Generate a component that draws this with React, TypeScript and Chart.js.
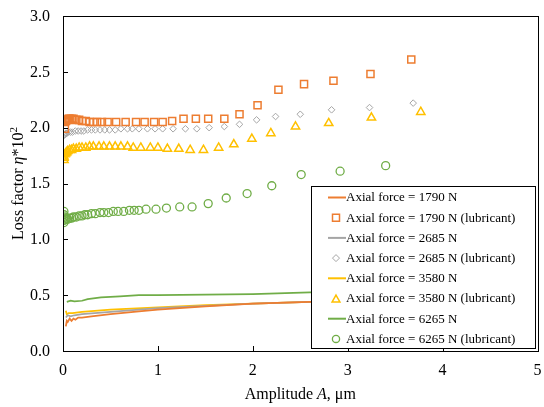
import { useEffect, useRef } from 'react';
import { Chart, registerables } from 'chart.js';

Chart.register(...registerables);

const SERIF = '"Liberation Serif", "Times New Roman", serif';

// Axis ticks
const xTicks = [0, 1, 2, 3, 4, 5];
const yTicks = [0, 0.5, 1.0, 1.5, 2.0, 2.5, 3.0];

// Series labels
const seriesLabels = [
  'Axial force = 1790 N',
  'Axial force = 1790 N (lubricant)',
  'Axial force = 2685 N',
  'Axial force = 2685 N (lubricant)',
  'Axial force = 3580 N',
  'Axial force = 3580 N (lubricant)',
  'Axial force = 6265 N',
  'Axial force = 6265 N (lubricant)',
];

// Dry (line) series
const amp1790 = [0.03, 0.04, 0.05, 0.07, 0.09, 0.11, 0.13, 0.16, 0.2, 0.3, 0.5, 0.8, 1.0, 1.5, 2.0, 2.6, 3.0, 3.6];
const loss1790 = [0.22, 0.27, 0.26, 0.29, 0.27, 0.29, 0.28, 0.30, 0.30, 0.31, 0.33, 0.355, 0.37, 0.40, 0.425, 0.44, 0.45, 0.46];

const amp2685 = [0.03, 0.05, 0.08, 0.12, 0.2, 0.5, 1.0, 1.5, 2.0, 2.6, 3.6];
const loss2685 = [0.30, 0.32, 0.31, 0.32, 0.33, 0.35, 0.385, 0.405, 0.425, 0.44, 0.46];

const amp3580 = [0.03, 0.04, 0.06, 0.1, 0.2, 0.5, 1.0, 1.5, 2.0, 2.6, 3.6];
const loss3580 = [0.36, 0.33, 0.34, 0.34, 0.35, 0.37, 0.39, 0.41, 0.425, 0.44, 0.46];

const amp6265 = [0.04, 0.08, 0.12, 0.2, 0.26, 0.4, 0.6, 0.8, 1.0, 1.5, 2.0, 2.6, 3.6];
const loss6265 = [0.44, 0.45, 0.445, 0.45, 0.465, 0.48, 0.49, 0.50, 0.50, 0.505, 0.51, 0.525, 0.53];

// Lubricant (marker) series
const amp1790L = [0.02, 0.02, 0.03, 0.04, 0.05, 0.06, 0.07, 0.09, 0.11, 0.14, 0.17, 0.20, 0.24, 0.28, 0.32, 0.36, 0.41, 0.47, 0.56, 0.66, 0.77, 0.86, 0.96, 1.05, 1.15, 1.27, 1.40, 1.53, 1.70, 1.86, 2.05, 2.27, 2.54, 2.85, 3.24, 3.67];
const loss1790L = [1.99, 2.05, 2.06, 2.07, 2.07, 2.08, 2.08, 2.08, 2.08, 2.07, 2.07, 2.06, 2.06, 2.05, 2.05, 2.05, 2.05, 2.05, 2.05, 2.05, 2.05, 2.05, 2.05, 2.05, 2.06, 2.08, 2.08, 2.08, 2.08, 2.12, 2.20, 2.34, 2.39, 2.42, 2.48, 2.61];

const amp2685L = [0.01, 0.01, 0.02, 0.03, 0.04, 0.06, 0.08, 0.10, 0.13, 0.16, 0.19, 0.22, 0.26, 0.30, 0.34, 0.39, 0.44, 0.49, 0.55, 0.61, 0.68, 0.73, 0.80, 0.89, 0.97, 1.05, 1.16, 1.29, 1.41, 1.54, 1.70, 1.86, 2.04, 2.24, 2.50, 2.83, 3.23, 3.69];
const loss2685L = [1.93, 1.94, 1.94, 1.95, 1.95, 1.96, 1.96, 1.96, 1.97, 1.97, 1.97, 1.97, 1.98, 1.98, 1.98, 1.98, 1.98, 1.98, 1.98, 1.99, 1.99, 1.99, 1.99, 1.99, 1.99, 1.99, 1.99, 1.99, 1.99, 2.00, 2.01, 2.03, 2.07, 2.10, 2.12, 2.16, 2.18, 2.22];

const amp3580L = [0.01, 0.01, 0.01, 0.02, 0.03, 0.04, 0.05, 0.07, 0.09, 0.11, 0.14, 0.17, 0.20, 0.24, 0.28, 0.32, 0.38, 0.43, 0.49, 0.55, 0.61, 0.68, 0.74, 0.82, 0.92, 1.00, 1.10, 1.22, 1.34, 1.48, 1.64, 1.80, 1.99, 2.19, 2.45, 2.80, 3.25, 3.77];
const loss3580L = [1.71, 1.73, 1.74, 1.76, 1.77, 1.78, 1.79, 1.80, 1.80, 1.81, 1.81, 1.82, 1.82, 1.82, 1.83, 1.83, 1.83, 1.83, 1.83, 1.83, 1.83, 1.83, 1.82, 1.82, 1.82, 1.82, 1.81, 1.81, 1.80, 1.80, 1.82, 1.85, 1.90, 1.95, 2.01, 2.04, 2.09, 2.14];

const amp6265L = [0.01, 0.01, 0.01, 0.01, 0.02, 0.03, 0.04, 0.05, 0.07, 0.09, 0.11, 0.14, 0.17, 0.20, 0.23, 0.26, 0.30, 0.34, 0.39, 0.43, 0.48, 0.53, 0.58, 0.64, 0.70, 0.75, 0.80, 0.875, 0.98, 1.09, 1.23, 1.36, 1.53, 1.72, 1.94, 2.20, 2.51, 2.92, 3.40];
const loss6265L = [1.25, 1.17, 1.22, 1.15, 1.20, 1.18, 1.19, 1.18, 1.19, 1.19, 1.20, 1.20, 1.21, 1.21, 1.22, 1.22, 1.23, 1.23, 1.24, 1.24, 1.24, 1.25, 1.25, 1.25, 1.26, 1.26, 1.26, 1.27, 1.27, 1.28, 1.29, 1.29, 1.32, 1.37, 1.41, 1.48, 1.58, 1.61, 1.66];

const ORANGE = '#ED7D31';
const GRAY = '#A5A5A5';
const YELLOW = '#FFC000';
const GREEN = '#70AD47';

const pts = (xs: number[], ys: number[]) => xs.map((x, i) => ({ x, y: ys[i] }));

type Seg = { text: string; font: string; dy?: number };

function drawSegs(ctx: CanvasRenderingContext2D, segs: Seg[], cx: number, baseline: number) {
  let total = 0;
  for (const s of segs) {
    ctx.font = s.font;
    total += ctx.measureText(s.text).width;
  }
  let x = cx - total / 2;
  ctx.textAlign = 'left';
  ctx.textBaseline = 'alphabetic';
  for (const s of segs) {
    ctx.font = s.font;
    ctx.fillText(s.text, x, baseline + (s.dy || 0));
    x += ctx.measureText(s.text).width;
  }
}

function drawMarker(ctx: CanvasRenderingContext2D, style: string, cx: number, cy: number, color: string) {
  ctx.save();
  ctx.strokeStyle = color;
  ctx.beginPath();
  if (style === 'rect') {
    ctx.lineWidth = 1.5;
    ctx.rect(cx - 3.5, cy - 3.5, 7, 7);
  } else if (style === 'rectRot') {
    ctx.lineWidth = 1;
    ctx.moveTo(cx, cy - 3.5);
    ctx.lineTo(cx + 3.5, cy);
    ctx.lineTo(cx, cy + 3.5);
    ctx.lineTo(cx - 3.5, cy);
    ctx.closePath();
  } else if (style === 'triangle') {
    ctx.lineWidth = 1.5;
    const r = 4.5;
    const oy = cy + r / 4;
    ctx.moveTo(cx, oy - r);
    ctx.lineTo(cx + r * 0.866, oy + r / 2);
    ctx.lineTo(cx - r * 0.866, oy + r / 2);
    ctx.closePath();
  } else {
    ctx.lineWidth = 1.3;
    ctx.arc(cx, cy, 3.6, 0, Math.PI * 2);
  }
  ctx.stroke();
  ctx.restore();
}

const decorPlugin = {
  id: 'decor',
  afterDatasetsDraw(chart: any) {
    const { ctx, chartArea: ca, scales } = chart;
    const xs = scales.x;
    const ys = scales.y;
    ctx.save();
    // inside tick marks
    ctx.strokeStyle = '#000';
    ctx.lineWidth = 1;
    ctx.beginPath();
    for (const v of yTicks) {
      const py = Math.round(ys.getPixelForValue(v)) + 0.5;
      ctx.moveTo(ca.left, py);
      ctx.lineTo(ca.left + 5, py);
    }
    for (const v of xTicks) {
      const px = Math.round(xs.getPixelForValue(v)) + 0.5;
      ctx.moveTo(px, ca.bottom);
      ctx.lineTo(px, ca.bottom - 5);
    }
    ctx.stroke();

    // tick labels
    ctx.fillStyle = '#000';
    ctx.font = '16px ' + SERIF;
    ctx.textBaseline = 'middle';
    ctx.textAlign = 'right';
    for (const v of yTicks) {
      ctx.fillText(v.toFixed(1), ca.left - 13, ys.getPixelForValue(v) + 0.5);
    }
    ctx.textAlign = 'center';
    for (const v of xTicks) {
      ctx.fillText(String(v), xs.getPixelForValue(v), ca.bottom + 20);
    }

    // legend box
    const boxW = 224;
    const boxH = 162;
    const bx = Math.round(ca.right - 3 - boxW);
    const by = Math.round(ca.bottom - 3 - boxH);
    ctx.fillStyle = '#fff';
    ctx.fillRect(bx, by, boxW, boxH);
    ctx.strokeStyle = '#000';
    ctx.lineWidth = 1;
    ctx.strokeRect(bx + 0.5, by + 0.5, boxW, boxH);
    const dsets = chart.data.datasets;
    dsets.forEach((d: any, i: number) => {
      const cy = by + 11.5 + i * 20.2;
      if (d.showLine) {
        ctx.strokeStyle = d.borderColor;
        ctx.lineWidth = 2;
        ctx.beginPath();
        ctx.moveTo(bx + 17, cy);
        ctx.lineTo(bx + 35, cy);
        ctx.stroke();
      } else {
        drawMarker(ctx, d.pointStyle, bx + 25, cy, d.borderColor);
      }
      ctx.fillStyle = '#000';
      ctx.font = '13px ' + SERIF;
      ctx.textAlign = 'left';
      ctx.textBaseline = 'middle';
      ctx.fillText(d.label, bx + 35, cy + 0.5);
    });

    // frame
    ctx.strokeStyle = '#000';
    ctx.lineWidth = 1;
    const l = Math.round(ca.left) + 0.5;
    const t = Math.round(ca.top) + 0.5;
    ctx.strokeRect(l, t, Math.round(ca.right) - Math.round(ca.left), Math.round(ca.bottom) - Math.round(ca.top));

    // axis titles
    ctx.fillStyle = '#000';
    const f = '16px ' + SERIF;
    const fi = 'italic 16px ' + SERIF;
    drawSegs(ctx, [
      { text: 'Amplitude ', font: f },
      { text: 'A', font: fi },
      { text: ', μm', font: f },
    ], (ca.left + ca.right) / 2, 399);
    ctx.save();
    ctx.translate(23, (ca.top + ca.bottom) / 2);
    ctx.rotate(-Math.PI / 2);
    drawSegs(ctx, [
      { text: 'Loss factor ', font: f },
      { text: 'η', font: fi },
      { text: '*10', font: f },
      { text: '2', font: '11px ' + SERIF, dy: -6 },
    ], 0, 0);
    ctx.restore();
    ctx.restore();
  },
};

export default function App() {
  const ref = useRef<HTMLCanvasElement | null>(null);
  useEffect(() => {
    document.body.style.margin = '0';
    if (!ref.current) return;
    const lineDs = (label: string, xs: number[], ys: number[], color: string) => ({
      label,
      data: pts(xs, ys),
      showLine: true,
      borderColor: color,
      backgroundColor: color,
      borderWidth: 1.75,
      pointRadius: 0,
      pointStyle: 'line',
    });
    const markDs = (label: string, xs: number[], ys: number[], color: string, style: string, r: number, bw: number) => ({
      label,
      data: pts(xs, ys),
      showLine: false,
      borderColor: color,
      backgroundColor: 'rgba(0,0,0,0)',
      pointStyle: style,
      pointRadius: r,
      pointBorderWidth: bw,
      borderWidth: bw,
    });
    const chart = new Chart(ref.current, {
      type: 'scatter',
      data: {
        datasets: [
          lineDs(seriesLabels[0], amp1790, loss1790, ORANGE),
          markDs(seriesLabels[1], amp1790L, loss1790L, ORANGE, 'rect', 5, 1.5),
          lineDs(seriesLabels[2], amp2685, loss2685, GRAY),
          markDs(seriesLabels[3], amp2685L, loss2685L, GRAY, 'rectRot', 3.3, 1),
          lineDs(seriesLabels[4], amp3580, loss3580, YELLOW),
          markDs(seriesLabels[5], amp3580L, loss3580L, YELLOW, 'triangle', 4.8, 1.5),
          lineDs(seriesLabels[6], amp6265, loss6265, GREEN),
          markDs(seriesLabels[7], amp6265L, loss6265L, GREEN, 'circle', 4, 1.3),
        ] as any,
      },
      options: {
        animation: false,
        responsive: true,
        maintainAspectRatio: false,
        layout: { padding: { top: 16, right: 2, left: 0, bottom: 0 } },
        plugins: {
          legend: { display: false },
          tooltip: { enabled: false },
        },
        scales: {
          x: {
            type: 'linear',
            min: 0,
            max: 5,
            grid: { display: false, drawTicks: false },
            border: { display: false },
            ticks: { stepSize: 1, display: false },
            afterFit: (s: any) => { s.height = 56; },
          },
          y: {
            type: 'linear',
            min: 0,
            max: 3,
            grid: { display: false, drawTicks: false },
            border: { display: false },
            ticks: { stepSize: 0.5, display: false },
            afterFit: (s: any) => { s.width = 63; },
          },
        },
      },
      plugins: [decorPlugin],
    });
    return () => chart.destroy();
  }, []);
  return (
    <div style={{ width: 544, height: 407, position: 'relative' }}>
      <canvas ref={ref} />
    </div>
  );
}
